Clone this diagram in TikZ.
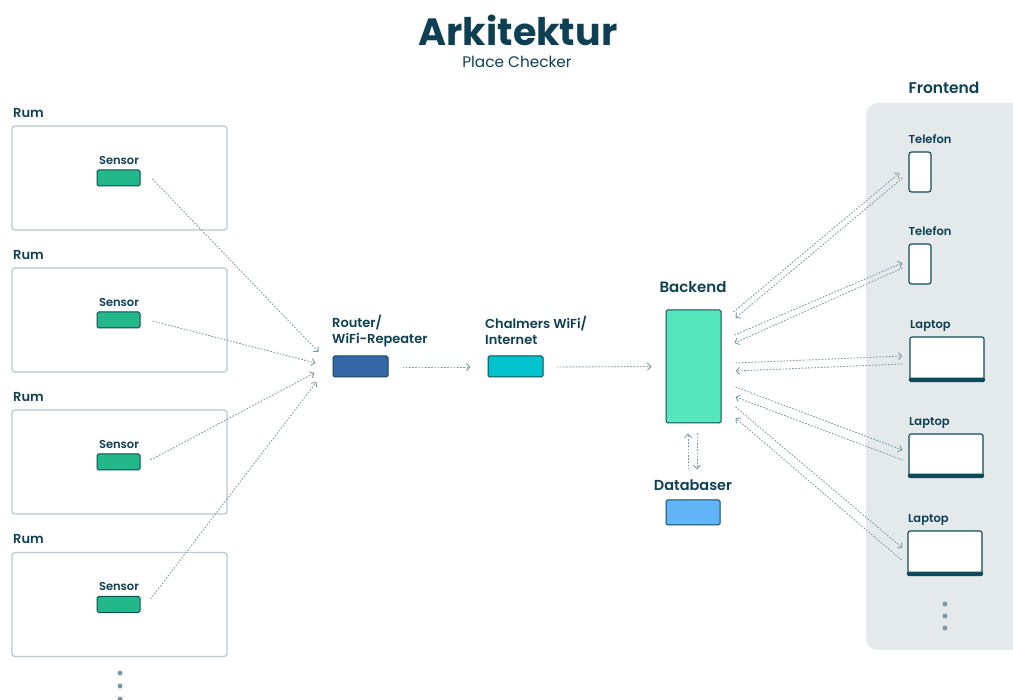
\documentclass[tikz,border=0pt]{standalone}
\usepackage{fontspec}
\setmainfont{Poppins}
\newfontfamily\semib{Poppins SemiBold}
\usetikzlibrary{arrows.meta,calc}
\definecolor{ink}{HTML}{0E3F52}
\definecolor{edge}{HTML}{0F4A5A}
\definecolor{roomline}{HTML}{B9CAD0}
\definecolor{flow}{HTML}{8199A2}
\definecolor{sensorfill}{HTML}{22B88A}
\definecolor{routerfill}{HTML}{3566A6}
\definecolor{netfill}{HTML}{00C3CD}
\definecolor{backfill}{HTML}{54E6BD}
\definecolor{dbfill}{HTML}{62B3F7}
\definecolor{panel}{HTML}{E4EAEC}
\definecolor{dotc}{HTML}{7D98A2}
\begin{document}
\begin{tikzpicture}[x=1pt,y=-1pt,
  room/.style={draw=roomline,line width=1.3pt,rounded corners=3pt,minimum width=215pt,minimum height=104pt,inner sep=0pt},
  dev/.style={draw=edge,line width=1pt,rounded corners=1.5pt,inner sep=0pt},
  phone/.style={draw=edge,fill=white,line width=1.1pt,rounded corners=2.5pt,minimum width=22pt,minimum height=40pt,inner sep=0pt},
  laptop/.style={draw=edge,fill=white,line width=1.1pt,rounded corners=2pt,minimum width=74pt,minimum height=44pt,inner sep=0pt},
  lbl/.style={text=ink,inner sep=0pt,font=\semib\fontsize{13}{16}\selectfont},
  blbl/.style={text=ink,inner sep=0pt,font=\semib\fontsize{15}{17}\selectfont},
  slbl/.style={text=ink,inner sep=0pt,font=\semib\fontsize{11.5}{13}\selectfont},
  flowline/.style={draw=flow,line width=0.9pt,dash pattern=on 1.6pt off 1.6pt,-{Straight Barb[length=3.5pt,width=7pt]}},
  vdot/.style={circle,fill=dotc,inner sep=0pt,minimum size=5pt}
]
\useasboundingbox (0,0) rectangle (1013,700);
% frontend panel
\begin{scope}
\clip (0,0) rectangle (1013,700);
\fill[panel,rounded corners=12pt] (866,103) rectangle (1040,650);
\end{scope}
% title
\node[text=ink,font=\fontsize{38}{42}\bfseries] (title) at (518,30) {Arkitektur};
\node[text=ink,font=\fontsize{15.3}{18}\selectfont] (sub) at (517,62) {Place Checker};
% rooms
\foreach \i/\y in {1/178,2/320,3/462,4/604.5}{
  \node[room] (r\i) at (119.5,\y) {};
  \node[lbl,anchor=west] (rl\i) at (13,\y-65) {Rum};
  \node[dev,fill=sensorfill,minimum width=43pt,minimum height=16pt] (s\i) at (118.5,\y) {};
  \node[slbl] (sl\i) at (119,\y-18) {Sensor};
}
\node[vdot] (d1) at (120,673) {};
\node[vdot] (d2) at (120,686) {};
\node[vdot] (d3) at (120,699) {};
% router & net
\node[dev,fill=routerfill,minimum width=55pt,minimum height=21pt] (rt) at (360.5,366.5) {};
\node[lbl,anchor=west,align=left] (rtl) at (332,331.5) {Router/\\WiFi-Repeater};
\node[dev,fill=netfill,minimum width=55pt,minimum height=21pt] (net) at (515.5,366.5) {};
\node[lbl,anchor=west,align=left] (netl) at (485,330.5) {Chalmers WiFi/\\Internet};
\node[dev,fill=backfill,minimum width=55pt,minimum height=113pt] (be) at (693.5,366.5) {};
\node[blbl] (bel) at (693,287) {Backend};
\node[dev,fill=dbfill,minimum width=54pt,minimum height=25pt] (db) at (693,512.5) {};
\node[blbl,font=\semib\fontsize{14.5}{17}\selectfont] (dbl) at (693,485) {Databaser};
% frontend
\node[blbl,font=\semib\fontsize{15.5}{17}\selectfont] (fel) at (944,88) {Frontend};
\node[phone] (t1) at (920,172) {};
\node[slbl] (t1l) at (930,139) {Telefon};
\node[phone] (t2) at (920,264) {};
\node[slbl] (t2l) at (930,231) {Telefon};
\node[laptop] (l1) at (947,359) {};
\node[slbl,anchor=west] (l1l) at (910,326) {Laptop};
\node[laptop,minimum height=43pt] (l2) at (946,455.5) {};
\node[slbl,anchor=west] (l2l) at (909,423) {Laptop};
\node[laptop] (l3) at (945,553) {};
\node[slbl,anchor=west] (l3l) at (908,520) {Laptop};
\foreach \n in {l1,l2,l3}{
  \fill[edge,rounded corners=1.5pt] ($(\n.south west)+(-0.55,0.55)$) rectangle ($(\n.south east)+(0.55,-4)$);
}
\node[vdot] (fd1) at (945,604) {};
\node[vdot] (fd2) at (945,616) {};
\node[vdot] (fd3) at (945,628) {};
% flows sensors -> router
\draw[flowline] ($(s1.east)+(12,1)$) -- ($(rt.west)+(-14,-14.5)$);
\draw[flowline] ($(s2.east)+(12,1)$) -- ($(rt.west)+(-17,-3.5)$);
\draw[flowline] ($(s3.east)+(10,-2)$) -- ($(rt.west)+(-18,6.5)$);
\draw[flowline] ($(s4.east)+(10,-5.5)$) -- ($(rt.west)+(-16,15.5)$);
\draw[flowline] ($(rt.east)+(14,0.5)$) -- ($(net.west)+(-17,0.5)$);
\draw[flowline] ($(net.east)+(13,0.5)$) -- ($(be.west)+(-14,0)$);
% backend <-> db
\draw[flowline] ($(db.north)+(-5,-30)$) -- ($(be.south)+(-5.5,10)$);
\draw[flowline] ($(be.south)+(3.5,10)$) -- ($(db.north)+(4,-30)$);
% backend <-> frontend
\draw[flowline] ($(be.east)+(12,-54.5)$) -- ($(t1.west)+(-9,1)$);
\draw[flowline] ($(t1.west)+(-6,6)$) -- ($(be.east)+(14,-48.5)$);
\draw[flowline] ($(be.east)+(13,-31.5)$) -- ($(t2.west)+(-6,-1)$);
\draw[flowline] ($(t2.west)+(-6,4)$) -- ($(be.east)+(13,-23.5)$);
\draw[flowline] ($(be.east)+(14,-3.5)$) -- ($(l1.west)+(-7,-3)$);
\draw[flowline] ($(l1.west)+(-7,5)$) -- ($(be.east)+(14,4.5)$);
\draw[flowline] ($(be.east)+(14,20.5)$) -- ($(l2.west)+(-6,-5.5)$);
\draw[flowline] ($(l2.west)+(-6,4.5)$) -- ($(be.east)+(14,30.5)$);
\draw[flowline] ($(be.east)+(14,40.5)$) -- ($(l3.west)+(-5,-5)$);
\draw[flowline] ($(l3.west)+(-6,7)$) -- ($(be.east)+(14,51.5)$);
\end{tikzpicture}
\end{document}
